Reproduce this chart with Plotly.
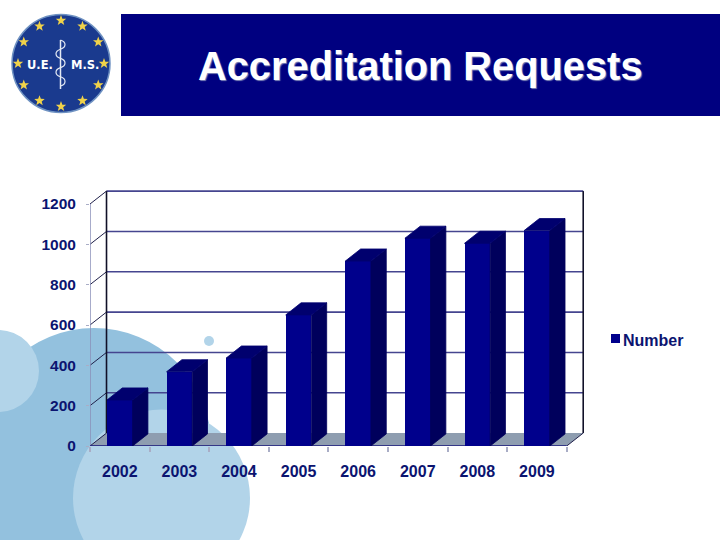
import math
import plotly.graph_objects as go

years = [2002, 2003, 2004, 2005, 2006, 2007, 2008, 2009]
values = [228, 368, 436, 650, 917, 1030, 1005, 1068]
y_ticks = [0, 200, 400, 600, 800, 1000, 1200]
title_text = "Accreditation Requests"
series_name = "Number"

W, H = 720, 540
L, R, T, B = 90, 135, 189, 94
pw, ph = W - L - R, H - T - B


def px(x):
    return (x - L) / pw


def py(y):
    return 1 - (y - T) / ph


def circle(cx, cy, r, fill, line=None, lw=0, layer="below"):
    return dict(type="circle", xref="paper", yref="paper", x0=px(cx - r), x1=px(cx + r),
                y0=py(cy + r), y1=py(cy - r), fillcolor=fill, layer=layer,
                line=dict(color=line or fill, width=lw))


def star_path(cx, cy, r):
    pts = []
    for i in range(10):
        rad = r if i % 2 == 0 else r * 0.42
        a = -math.pi / 2 + i * math.pi / 5
        pts.append((px(cx + rad * math.cos(a)), py(cy + rad * math.sin(a))))
    return "M" + "L".join(f"{a:.5f},{b:.5f}" for a, b in pts) + "Z"


def snake_path(cx, top, bottom, amp, turns):
    step = (bottom - top) / turns
    d = f"M{px(cx):.5f},{py(top):.5f}"
    for i in range(turns):
        side = amp if i % 2 == 0 else -amp
        y0 = top + i * step
        d += (f" C{px(cx + side):.5f},{py(y0 + step * 0.2):.5f}"
              f" {px(cx + side):.5f},{py(y0 + step * 0.8):.5f}"
              f" {px(cx):.5f},{py(y0 + step):.5f}")
    return d


n = len(years)
centers = [i + 0.5 for i in range(n)]
bar_w = 0.43
bar_dx, bar_dy = 0.257, 60
wall_dx, wall_dy = 0.277, 64
x_max = n + wall_dx
y_max = y_ticks[-1] + wall_dy
# the axis ranges run 2 px past the box so that its outer lines are not clipped
x_range_max = (W - R - L) * (n / (566.7 - 90))
y_range_max = (H - B - T) * (y_ticks[-1] / (446 - 204))

NAVY = "#0b1470"
GRID = "#45458f"
FRONT = "#00008c"
SIDE = "#00005c"
TOP = "#00006e"
DARK_BLUE = "#93c1de"
LIGHT_BLUE = "#b2d4e9"

shapes = [
    # slide background
    circle(94, 445, 117, DARK_BLUE),
    dict(type="rect", xref="paper", yref="paper", x0=px(0), x1=px(94), y0=py(540), y1=py(445),
         fillcolor=DARK_BLUE, line=dict(width=0), layer="below"),
    circle(-2, 371, 41, LIGHT_BLUE),
    circle(161.5, 498, 88.5, LIGHT_BLUE),
    circle(209, 341, 5, LIGHT_BLUE),
    # banner
    dict(type="rect", xref="paper", yref="paper", x0=px(121), x1=px(720), y0=py(116), y1=py(14),
         fillcolor="#000080", line=dict(width=0), layer="below"),
    # logo
    circle(61, 63.5, 49, "#1a3a8e", "#6f92c2", 1.5),
    dict(type="line", xref="paper", yref="paper", x0=px(60.5), x1=px(60.5), y0=py(40), y1=py(89),
         line=dict(color="#e4eaf4", width=1.5), layer="below"),
    dict(type="path", xref="paper", yref="paper", path=snake_path(60.5, 40, 86, 6, 5),
         line=dict(color="#e4eaf4", width=1.2), layer="below"),
    # legend swatch
    dict(type="rect", xref="paper", yref="paper", x0=px(611), x1=px(620), y0=py(343), y1=py(334),
         fillcolor=FRONT, line=dict(width=0), layer="below"),
]
for i in range(12):
    a = i * math.pi / 6
    shapes.append(dict(type="path", xref="paper", yref="paper",
                       path=star_path(61 + 43 * math.sin(a), 63.5 - 43 * math.cos(a), 5.5),
                       fillcolor="#f0d24a", line=dict(width=0), layer="below"))

# floor
shapes.append(dict(type="path", xref="x", yref="y", layer="below",
                   path=f"M0,0L{n},0L{x_max},{wall_dy}L{wall_dx},{wall_dy}Z",
                   fillcolor="#8e9db0", line=dict(width=0)))
# wall gridlines and their diagonals
for v in y_ticks:
    if v > 0:
        shapes.append(dict(type="line", xref="x", yref="y", layer="below", x0=wall_dx, x1=x_max,
                           y0=v + wall_dy, y1=v + wall_dy, line=dict(color=GRID, width=1.6)))
    shapes.append(dict(type="line", xref="x", yref="y", layer="below", x0=0, x1=wall_dx,
                       y0=v, y1=v + wall_dy, line=dict(color="#20204a", width=1)))
for xv in (wall_dx, x_max):
    shapes.append(dict(type="line", xref="x", yref="y", layer="below", x0=xv, x1=xv,
                       y0=wall_dy, y1=y_max, line=dict(color="#101028", width=1.6)))
shapes.append(dict(type="line", xref="x", yref="y", layer="below", x0=n, x1=x_max,
                   y0=0, y1=wall_dy, line=dict(color="#20204a", width=1)))
# front axes stop at the front plane of the box
shapes.append(dict(type="line", xref="x", yref="y", layer="below", x0=0, x1=0,
                   y0=0, y1=y_ticks[-1], line=dict(color="#8a8fb8", width=1.5)))
shapes.append(dict(type="line", xref="x", yref="y", layer="below", x0=0, x1=n,
                   y0=0, y1=0, line=dict(color="#16167a", width=1.5)))

fig = go.Figure()
fig.add_trace(go.Bar(x=centers, y=values, width=bar_w, marker=dict(color=FRONT, line=dict(width=0)),
                     name=series_name, showlegend=False, hoverinfo="skip"))
for c, v in zip(centers, values):
    x0, x1 = c - bar_w / 2, c + bar_w / 2
    fig.add_trace(go.Scatter(x=[x1, x1, x1 + bar_dx, x1 + bar_dx, x1], y=[0, v, v + bar_dy, bar_dy, 0],
                             mode="lines", fill="toself", fillcolor=SIDE, line=dict(width=0.8, color=SIDE),
                             showlegend=False, hoverinfo="skip", cliponaxis=False))
    fig.add_trace(go.Scatter(x=[x0, x1, x1 + bar_dx, x0 + bar_dx, x0], y=[v, v, v + bar_dy, v + bar_dy, v],
                             mode="lines", fill="toself", fillcolor=TOP, line=dict(width=0.8, color=TOP),
                             showlegend=False, hoverinfo="skip", cliponaxis=False))
fig.add_trace(go.Scatter(x=[None], y=[None], mode="markers", name=series_name,
                         marker=dict(symbol="square", size=9, color="rgba(0,0,0,0)")))

FONT = "Liberation Sans"
annotations = [
    dict(text=f"<b>{title_text}</b>", xref="paper", yref="paper", x=px(420), y=py(66), showarrow=False,
         xanchor="center", yanchor="middle",
         font=dict(family=FONT, size=39.8, color="white", shadow="1px 1px 1px #7f86b8")),
    dict(text="<b>U.E.</b>", xref="paper", yref="paper", x=px(40), y=py(65), showarrow=False,
         xanchor="center", yanchor="middle", font=dict(family="DejaVu Sans", size=11.5, color="white")),
    dict(text="<b>M.S.</b>", xref="paper", yref="paper", x=px(85), y=py(65), showarrow=False,
         xanchor="center", yanchor="middle", font=dict(family="DejaVu Sans", size=11.5, color="white")),
]

fig.update_layout(
    width=W, height=H, margin=dict(l=L, r=R, t=T, b=B, pad=0, autoexpand=False),
    paper_bgcolor="white", plot_bgcolor="rgba(0,0,0,0)", shapes=shapes, annotations=annotations,
    bargap=0, showlegend=True,
    legend=dict(x=px(583), y=py(340), xanchor="left", yanchor="middle", bgcolor="rgba(0,0,0,0)",
                font=dict(family=FONT, size=16, color=NAVY, weight="bold"), borderwidth=0),
    xaxis=dict(range=[0, x_range_max], tickvals=centers, ticktext=[str(y) for y in years], showgrid=False,
               zeroline=False, showline=False, ticks="",
               ticklabelstandoff=14, tickfont=dict(family=FONT, size=16, color=NAVY, weight="bold"),
               minor=dict(tickvals=list(range(n + 1)), ticks="outside", ticklen=5, tickcolor="#a9adc6", tickwidth=1.5)),
    yaxis=dict(range=[0, y_range_max], tickvals=y_ticks, showgrid=False, zeroline=False, showline=False,
               ticks="outside", ticklen=3, tickcolor="#a9adc6",
               ticklabelstandoff=7, tickfont=dict(family=FONT, size=15.5, color=NAVY, weight="bold")),
)
fig.write_html("out.html", config={"displayModeBar": False}, post_script="document.body.style.margin='0';")
